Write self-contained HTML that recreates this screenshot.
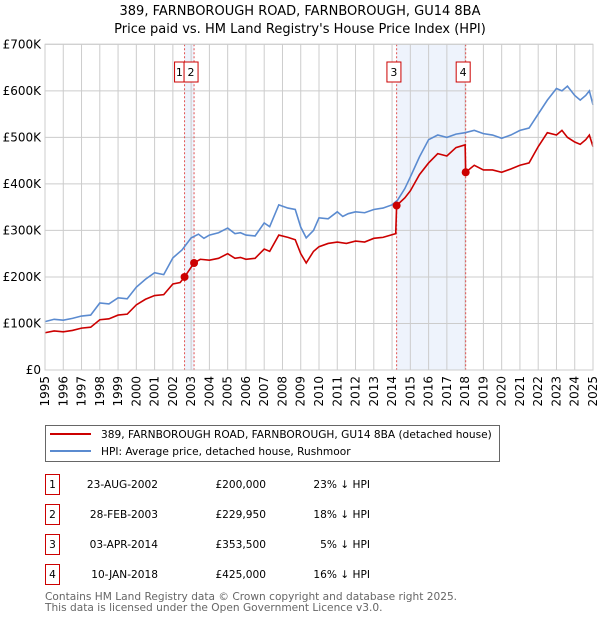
<!DOCTYPE html>
<html><head><meta charset="utf-8"><style>
body{margin:0;background:#fff;font-family:"Liberation Sans","DejaVu Sans",sans-serif;}
#wrap{position:relative;width:600px;height:620px;overflow:hidden;}
</style></head><body><div id="wrap">
<svg id="chart" width="600" height="620" style="position:absolute;left:0;top:0">
<text x="300" y="15" text-anchor="middle" font-size="13" font-family="DejaVu Sans,sans-serif">389, FARNBOROUGH ROAD, FARNBOROUGH, GU14 8BA</text>
<text x="300" y="33" text-anchor="middle" font-size="13" font-family="DejaVu Sans,sans-serif">Price paid vs. HM Land Registry's House Price Index (HPI)</text>
<g id="g"></g>
</svg>
<svg width="600" height="620" style="position:absolute;left:0;top:0;pointer-events:none">
<rect x="45.5" y="425.5" width="454" height="36" fill="none" stroke="#666"/>
<line x1="50" y1="434" x2="91" y2="434" stroke="#cc0000" stroke-width="2"/>
<line x1="50" y1="451" x2="91" y2="451" stroke="#5b8bd0" stroke-width="2"/>
<text x="101" y="438" font-size="10.6" font-family="DejaVu Sans,sans-serif">389, FARNBOROUGH ROAD, FARNBOROUGH, GU14 8BA (detached house)</text>
<text x="101" y="455" font-size="10.6" font-family="DejaVu Sans,sans-serif">HPI: Average price, detached house, Rushmoor</text>
<g font-size="10.6" font-family="DejaVu Sans,sans-serif" id="tbl"></g>
<text x="45" y="600" font-size="10.6" fill="#666" font-family="DejaVu Sans,sans-serif">Contains HM Land Registry data © Crown copyright and database right 2025.</text>
<text x="45" y="611" font-size="10.6" fill="#666" font-family="DejaVu Sans,sans-serif">This data is licensed under the Open Government Licence v3.0.</text>
</svg>
</div>
<script>
const hpiYears=[1995,1995.5,1996,1996.5,1997,1997.5,1998,1998.5,1999,1999.5,2000,2000.5,2001,2001.5,2002,2002.5,2003,2003.4,2003.7,2004,2004.5,2005,2005.4,2005.7,2006,2006.5,2007,2007.3,2007.8,2008.3,2008.7,2009,2009.3,2009.7,2010,2010.5,2011,2011.3,2011.6,2012,2012.5,2013,2013.5,2014,2014.3,2014.7,2015,2015.5,2016,2016.5,2017,2017.5,2018,2018.5,2019,2019.5,2020,2020.5,2021,2021.5,2022,2022.5,2023,2023.3,2023.6,2024,2024.3,2024.6,2024.8,2025];
const hpiValues=[104,109,107,111,116,118,144,142,155,153,178,195,209,205,241,258,284,292,283,290,295,305,293,295,290,288,316,308,355,348,345,307,284,300,327,325,340,330,336,340,338,345,348,355,365,390,415,458,495,505,500,507,510,515,508,505,498,505,515,520,550,580,605,600,610,590,580,590,600,570];
const priceYears=[1995,1995.5,1996,1996.5,1997,1997.5,1998,1998.5,1999,1999.5,2000,2000.5,2001,2001.5,2002,2002.4,2002.64,2003.16,2003.5,2004,2004.5,2005,2005.4,2005.7,2006,2006.5,2007,2007.3,2007.8,2008.3,2008.7,2009,2009.3,2009.7,2010,2010.5,2011,2011.5,2012,2012.5,2013,2013.5,2014.2,2014.25,2014.7,2015,2015.5,2016,2016.5,2017,2017.5,2018.0,2018.03,2018.5,2019,2019.5,2020,2020.5,2021,2021.5,2022,2022.5,2023,2023.3,2023.6,2024,2024.3,2024.6,2024.8,2025];
const priceValues=[80,84,82,85,90,92,108,110,118,120,140,152,160,162,185,188,200,229.95,238,236,240,250,240,242,238,240,260,255,290,285,280,250,230,255,265,272,275,272,277,275,283,285,293,353.5,370,385,420,445,465,460,478,484,425,440,430,430,425,432,440,445,480,510,505,515,500,490,485,495,505,480];
const saleLabels=["1","2","3","4"];
const saleYears=[2002.64,2003.16,2014.25,2018.03];
const salePrices=[200,229.95,353.5,425];
const saleDates=["23-AUG-2002","28-FEB-2003","03-APR-2014","10-JAN-2018"];
const salePriceText=["£200,000","£229,950","£353,500","£425,000"];
const saleHpiText=["23% ↓ HPI","18% ↓ HPI","5% ↓ HPI","16% ↓ HPI"];
const yTicks=[0,100,200,300,400,500,600,700];
const yTickLabels=["£0","£100K","£200K","£300K","£400K","£500K","£600K","£700K"];
const xTicks=[1995,1996,1997,1998,1999,2000,2001,2002,2003,2004,2005,2006,2007,2008,2009,2010,2011,2012,2013,2014,2015,2016,2017,2018,2019,2020,2021,2022,2023,2024,2025];

const L=45,R=593,T=44.3,B=370;
const X=y=>L+(y-1995)/30*(R-L);
const Y=v=>B-v/700*(B-T);
const NS="http://www.w3.org/2000/svg";
const g=document.getElementById('g');
function mk(tag,attrs,parent){const e=document.createElementNS(NS,tag);for(const k in attrs)e.setAttribute(k,attrs[k]);(parent||g).appendChild(e);return e;}
[[0,1],[2,3]].forEach(p=>{const r=mk('rect',{x:X(saleYears[p[0]]),y:T,width:X(saleYears[p[1]])-X(saleYears[p[0]]),height:B-T,fill:'#eef3fc'});

});
xTicks.forEach(t=>{const l=mk('line',{x1:X(t),x2:X(t),y1:T,y2:B,stroke:'#ccc','stroke-width':1});


const tx=mk('text',{x:0,y:0,'font-size':12,'font-family':'DejaVu Sans,sans-serif','text-anchor':'end',transform:`translate(${X(t)+4},376) rotate(-90)`});tx.textContent=t;

});
yTicks.forEach((t,i)=>{const l=mk('line',{x1:L,x2:R,y1:Y(t),y2:Y(t),stroke:'#ccc','stroke-width':1});


const tx=mk('text',{x:41,y:Y(t)+4,'font-size':12,'font-family':'DejaVu Sans,sans-serif','text-anchor':'end'});tx.textContent=yTickLabels[i];

});
saleYears.forEach((s,i)=>{const l=mk('line',{x1:X(s),x2:X(s),y1:T,y2:B,stroke:'#e05050','stroke-width':1,'stroke-dasharray':'2,2'});

});
function poly(xs,vs,col,name){const p=mk('polyline',{points:xs.map((x,i)=>X(x)+','+Y(vs[i])).join(' '),fill:'none',stroke:col,'stroke-width':1.6});

}
poly(hpiYears,hpiValues,'#5b8bd0','hpi-line');
poly(priceYears,priceValues,'#cc0000','price-paid-line');
const boxOff=[-10,-10,-9.7,-9.5],boxW=[9.7,14,14,14];
saleYears.forEach((s,i)=>{const c=mk('circle',{cx:X(s),cy:Y(salePrices[i]),r:4,fill:'#cc0000'});


const bx=X(s)+boxOff[i];
const r=mk('rect',{x:bx,y:62,width:boxW[i],height:20,fill:'#fff',stroke:'#cc0000'});


const t=mk('text',{x:bx+boxW[i]/2,y:76,'font-size':11,'text-anchor':'middle','font-family':'DejaVu Sans,sans-serif'});t.textContent=saleLabels[i];

});
const f=mk('rect',{x:L,y:T,width:R-L,height:B-T,fill:'none',stroke:'#ccc'});


const tb=document.getElementById('tbl');
const rowY=[483,513,543,573];
saleLabels.forEach((lab,i)=>{const ry=rowY[i];
const r=mk('rect',{x:45.5,y:ry-8.5,width:14,height:20,fill:'none',stroke:'#cc0000'},tb);


const ty=ry+5;
const cells=[[52.5,lab,'middle'],[158,saleDates[i],'end'],[266,salePriceText[i],'end'],[370,saleHpiText[i],'end']];
cells.forEach((c,j)=>{const t=mk('text',{x:c[0],y:ty,'text-anchor':c[2]},tb);t.textContent=c[1];

});});
</script>
</body></html>
